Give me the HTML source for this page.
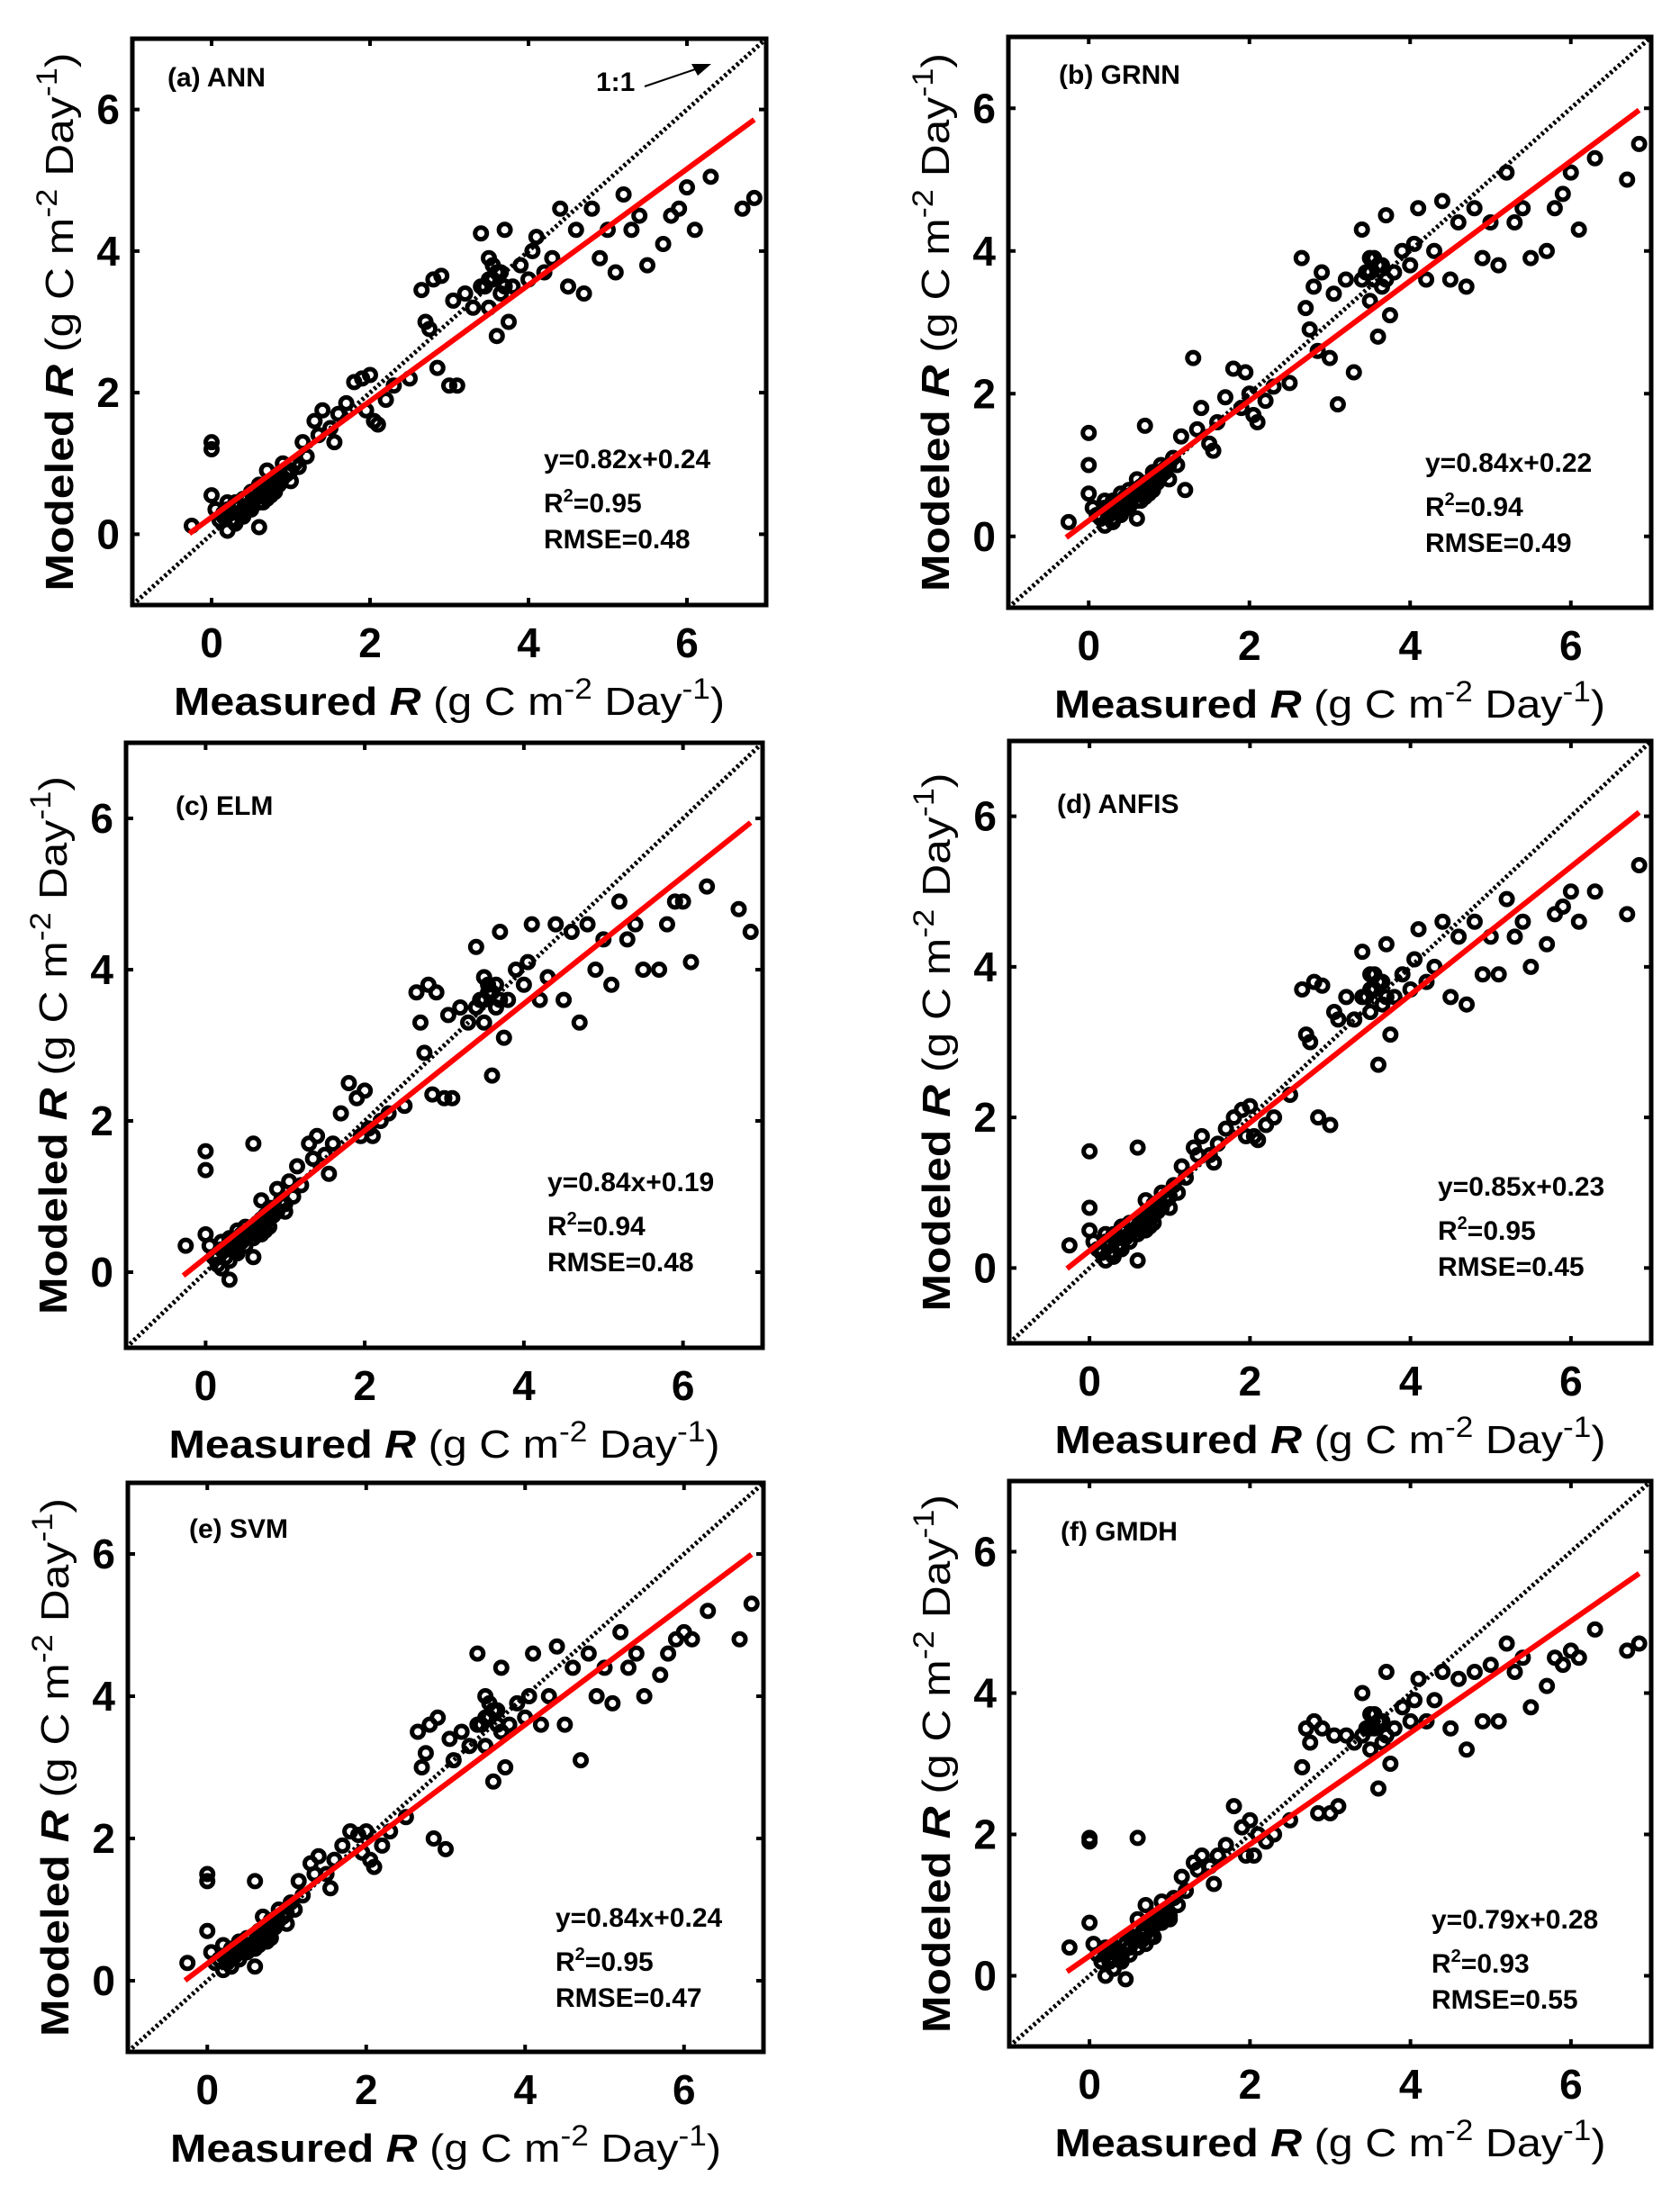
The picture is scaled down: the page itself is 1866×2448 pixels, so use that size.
<!DOCTYPE html>
<html><head><meta charset="utf-8"><style>
html,body{margin:0;padding:0;background:#fff;}
svg{display:block;font-family:"Liberation Sans",Arial,sans-serif;}
</style></head><body>
<svg id="fig" xmlns="http://www.w3.org/2000/svg" width="1866" height="2448" viewBox="0 0 1866 2448"></svg>
<script>
// ---------- data ----------
const measured = [-0.25,0,0,0,0.05,0.1,0.15,0.2,0.2,0.25,0.3,0.3,0.35,0.4,0.4,0.45,0.5,0.5,0.55,0.6,0.6,0.65,0.7,0.7,0.75,0.8,0.8,0.85,0.9,0.95,1.0,1.05,1.1,1.15,1.2,
1.3,1.35,1.4,1.5,1.55,1.6,1.7,1.8,1.9,1.95,2.0,2.05,2.1,2.2,2.3,
2.5,2.65,2.7,2.75,2.8,2.85,2.9,3.0,3.05,3.1,3.2,3.3,
3.4,3.45,3.5,3.5,3.55,3.6,3.65,3.7,3.75,3.8,3.9,4.0,4.05,4.1,4.2,4.3,
4.4,4.5,4.6,4.7,4.8,4.9,5.0,5.1,5.2,5.3,5.4,5.5,
5.7,5.8,5.9,6.0,6.1,6.3,6.7,6.85,
0.15,0.2,0.25,0.3,0.35,0.4,0.45,0.5,0.55,0.6,0.65,0.7,0.75,0.8,0.85,0.9,0.95,1.0,0.3,0.4,0.5,0.6,0.7,0.8,3.4,3.5,3.6,3.7,3.55,3.65];
const modeledA = [0.12,1.3,1.2,0.55,0.35,0.2,0.3,0.05,0.45,0.2,0.4,0.15,0.3,0.5,0.25,0.35,0.6,0.4,0.5,0.1,0.7,0.45,0.9,0.6,0.55,0.8,0.65,0.7,1.0,0.85,0.75,1.0,0.95,1.3,1.1,
1.6,1.4,1.75,1.5,1.3,1.7,1.85,2.15,2.2,1.75,2.25,1.6,1.55,1.9,2.1,
2.2,3.45,3.0,2.9,3.6,2.35,3.65,2.1,3.3,2.1,3.4,3.2,
4.25,3.5,3.9,3.2,3.6,2.8,3.7,4.3,3.0,3.5,3.8,3.6,4.0,4.2,3.7,3.9,
4.6,3.5,4.3,3.4,4.6,3.9,4.3,3.7,4.8,4.3,4.5,3.8,
4.1,4.5,4.6,4.9,4.3,5.05,4.6,4.75,
0.25,0.35,0.3,0.45,0.4,0.35,0.5,0.45,0.6,0.55,0.65,0.7,0.7,0.75,0.85,0.8,0.9,0.9,0.2,0.3,0.35,0.45,0.5,0.6,3.5,3.6,3.7,3.5,3.8,3.4];
const modeledB = [0.2,1.45,1.0,0.6,0.4,0.3,0.25,0.15,0.5,0.3,0.45,0.2,0.35,0.6,0.3,0.4,0.65,0.45,0.55,0.25,0.8,0.5,1.55,0.65,0.6,0.9,0.7,0.75,1.0,0.9,0.8,1.1,1.0,1.4,0.65,
2.5,1.5,1.8,1.3,1.2,1.6,1.95,2.35,1.8,2.3,2.0,1.7,1.6,1.9,2.1,
2.15,3.9,3.2,2.9,3.5,2.6,3.7,2.5,3.4,1.85,3.6,2.3,
4.3,3.7,3.9,3.3,3.6,2.8,3.8,4.5,3.1,3.7,4.0,3.8,4.1,4.6,3.6,4.0,
4.7,3.6,4.4,3.5,4.6,3.9,4.4,3.8,5.1,4.4,4.6,3.9,
4.0,4.6,4.8,5.1,4.3,5.3,5.0,5.5,
0.3,0.4,0.35,0.5,0.45,0.4,0.55,0.5,0.6,0.6,0.7,0.75,0.7,0.8,0.9,0.85,0.95,1.0,0.25,0.35,0.4,0.5,0.55,0.65,3.6,3.7,3.8,3.6,3.9,3.5];
const modeledC = [0.35,1.6,1.35,0.5,0.35,0.2,0.1,0.05,0.4,0.2,0.45,-0.1,0.3,0.55,0.25,0.4,0.6,0.45,0.5,0.2,1.7,0.5,0.95,0.6,0.55,0.85,0.7,0.75,1.1,0.9,0.8,1.2,1.0,1.4,1.15,
1.7,1.5,1.8,1.55,1.3,1.7,2.1,2.5,2.3,1.8,2.4,1.9,1.8,2.0,2.1,
2.2,3.7,3.3,2.9,3.8,2.35,3.7,2.3,3.4,2.3,3.5,3.3,
4.3,3.6,3.9,3.3,3.7,2.6,3.8,4.5,3.1,3.6,4.0,3.8,4.1,4.6,3.6,3.9,
4.6,3.6,4.5,3.3,4.6,4.0,4.4,3.8,4.9,4.4,4.6,4.0,
4.0,4.6,4.9,4.9,4.1,5.1,4.8,4.5,
0.2,0.3,0.3,0.4,0.4,0.35,0.5,0.45,0.55,0.6,0.65,0.7,0.75,0.75,0.85,0.8,0.95,0.9,0.15,0.3,0.35,0.45,0.5,0.6,3.5,3.6,3.7,3.6,3.8,3.5];
const modeledD = [0.3,1.55,0.8,0.5,0.35,0.25,0.2,0.1,0.45,0.2,0.4,0.15,0.3,0.55,0.25,0.4,0.6,0.45,0.5,0.1,1.6,0.5,0.9,0.6,0.55,0.85,0.7,0.75,1.0,0.9,0.8,1.1,1.0,1.35,1.2,
1.6,1.5,1.75,1.5,1.4,1.65,1.85,2.0,2.1,1.75,2.15,1.75,1.7,1.9,2.0,
2.3,3.7,3.1,3.0,3.8,2.0,3.75,1.9,3.4,3.3,3.6,3.3,
4.2,3.6,3.9,3.4,3.7,2.7,3.8,4.3,3.1,3.6,3.9,3.7,4.1,4.5,3.8,4.0,
4.6,3.6,4.4,3.5,4.6,3.9,4.4,3.9,4.9,4.4,4.6,4.0,
4.3,4.7,4.8,5.0,4.6,5.0,4.7,5.35,
0.25,0.35,0.3,0.45,0.4,0.4,0.5,0.45,0.6,0.55,0.65,0.7,0.75,0.8,0.85,0.8,0.95,0.95,0.2,0.3,0.35,0.45,0.5,0.6,3.6,3.7,3.8,3.6,3.9,3.5];
const modeledE = [0.25,1.5,1.4,0.7,0.4,0.25,0.3,0.15,0.5,0.25,0.4,0.2,0.35,0.55,0.3,0.4,0.6,0.45,0.5,0.2,1.4,0.5,0.9,0.6,0.55,0.85,0.7,0.75,1.0,0.9,0.8,1.1,1.0,1.4,1.2,
1.65,1.5,1.75,1.5,1.3,1.7,1.9,2.1,2.05,1.8,2.1,1.7,1.6,1.9,2.1,
2.3,3.5,3.0,3.2,3.6,2.0,3.7,1.85,3.4,3.1,3.5,3.3,
4.6,3.6,4.0,3.3,3.7,2.8,3.8,4.4,3.0,3.6,3.9,3.7,4.0,4.6,3.6,4.0,
4.7,3.6,4.4,3.1,4.6,4.0,4.4,3.9,4.9,4.4,4.6,4.0,
4.3,4.6,4.8,4.9,4.8,5.2,4.8,5.3,
0.3,0.35,0.3,0.45,0.4,0.4,0.5,0.5,0.6,0.55,0.7,0.7,0.75,0.8,0.85,0.85,0.9,0.95,0.2,0.3,0.4,0.45,0.55,0.6,3.6,3.7,3.8,3.5,3.9,3.6];
const modeledF = [0.4,1.95,1.9,0.75,0.45,0.3,0.2,0.0,0.4,0.2,0.35,0.1,0.3,0.5,0.2,-0.05,0.55,0.4,0.5,1.95,0.8,0.5,1.0,0.6,0.55,0.85,0.7,0.75,1.05,0.9,0.8,1.1,1.0,1.4,1.2,
1.6,1.5,1.7,1.55,1.3,1.7,1.85,2.4,2.1,1.7,2.2,1.7,2.0,1.9,2.0,
2.2,2.95,3.5,3.3,3.6,2.3,3.5,2.3,3.4,2.4,3.4,3.3,
4.0,3.5,3.7,3.2,3.5,2.65,3.6,4.3,3.0,3.5,3.8,3.6,3.9,4.2,3.6,3.9,
4.3,3.5,4.2,3.2,4.3,3.6,4.4,3.6,4.7,4.3,4.5,3.8,
4.1,4.5,4.4,4.6,4.5,4.9,4.6,4.7,
0.2,0.3,0.25,0.4,0.35,0.3,0.45,0.4,0.55,0.5,0.6,0.65,0.7,0.7,0.8,0.75,0.85,0.85,0.1,0.25,0.3,0.4,0.45,0.55,3.4,3.5,3.6,3.4,3.7,3.3];
const slopes = [0.82,0.84,0.84,0.85,0.84,0.79];
const intercepts = [0.24,0.22,0.19,0.23,0.24,0.28];
const r2Labels = ["0.95","0.94","0.94","0.95","0.95","0.93"];
const rmseLabels = ["0.48","0.49","0.48","0.45","0.47","0.55"];
const panelTitles = ["(a) ANN","(b) GRNN","(c) ELM","(d) ANFIS","(e) SVM","(f) GMDH"];
const tickValues = [0,2,4,6];
const modeledAll = [modeledA,modeledB,modeledC,modeledD,modeledE,modeledF];

// ---------- layout ----------
const layout = [
 {L:147,T:43,R:851,B:672, lab:[186,96], eq:[604,520]},
 {L:1120,T:41,R:1834,B:675, lab:[1176,93], eq:[1583,524]},
 {L:140,T:825,R:847,B:1497, lab:[195,905], eq:[608,1323]},
 {L:1121,T:823,R:1834,B:1492, lab:[1174,903], eq:[1597,1328]},
 {L:142,T:1647,R:848,B:2279, lab:[210,1708], eq:[617,2140]},
 {L:1121,T:1645,R:1834,B:2273, lab:[1178,1711], eq:[1590,2142]}
];
const NS="http://www.w3.org/2000/svg";
const svg=document.getElementById('fig');
function mk(tag,attrs,parent){const e=document.createElementNS(NS,tag);for(const k in attrs)e.setAttribute(k,attrs[k]);(parent||svg).appendChild(e);return e;}

layout.forEach((p,i)=>{
  const g=mk('g',{});
  
  
  const ux=(p.R-p.L)/8, uy=(p.B-p.T)/8;
  const sx=v=>p.L+(v+1)*ux, sy=v=>p.B-(v+1)*uy;
  const cp=mk('clipPath',{id:'clip'+i},g);
  mk('rect',{x:p.L,y:p.T,width:p.R-p.L,height:p.B-p.T},cp);
  const plot=mk('g',{'clip-path':'url(#clip'+i+')'},g);
  const xs=measured, ys=modeledAll[i];
  for(let k=0;k<xs.length;k++){
    const c=mk('circle',{cx:sx(xs[k]),cy:sy(ys[k]),r:6.5,fill:'none',stroke:'#000','stroke-width':5},plot);
    
    
  }
  const one=mk('line',{x1:sx(-1),y1:sy(-1),x2:sx(7),y2:sy(7),stroke:'#000','stroke-width':5,'stroke-dasharray':'3 3'},plot);
  
  
  const x1=-0.28,x2=6.85;
  const fit=mk('line',{x1:sx(x1),y1:sy(slopes[i]*x1+intercepts[i]),x2:sx(x2),y2:sy(slopes[i]*x2+intercepts[i]),stroke:'#ff0000','stroke-width':6},plot);
  
  
  const fr=mk('rect',{x:p.L,y:p.T,width:p.R-p.L,height:p.B-p.T,fill:'none',stroke:'#000','stroke-width':5},g);
  
  
  tickValues.forEach(t=>{
    mk('line',{x1:sx(t),y1:p.B,x2:sx(t),y2:p.B-8,stroke:'#000','stroke-width':4},g);
    mk('line',{x1:sx(t),y1:p.T,x2:sx(t),y2:p.T+8,stroke:'#000','stroke-width':4},g);
    mk('line',{x1:p.L,y1:sy(t),x2:p.L+8,y2:sy(t),stroke:'#000','stroke-width':4},g);
    mk('line',{x1:p.R,y1:sy(t),x2:p.R-8,y2:sy(t),stroke:'#000','stroke-width':4},g);
    const xt=mk('text',{x:sx(t),y:p.B+58,'text-anchor':'middle','font-size':46,'font-weight':'bold'},g);
    xt.textContent=t;
    
    
    const yt=mk('text',{x:p.L-14,y:sy(t)+16,'text-anchor':'end','font-size':46,'font-weight':'bold'},g);
    yt.textContent=t;
    
    
  });
  const cx=(p.L+p.R)/2;
  const xl=mk('text',{x:cx,y:p.B+122,'text-anchor':'middle','font-size':44,textLength:612,lengthAdjust:'spacingAndGlyphs'},g);
  xl.innerHTML='<tspan font-weight="bold">Measured </tspan><tspan font-weight="bold" font-style="italic">R</tspan><tspan> (g C m</tspan><tspan dy="-18" font-size="32">-2</tspan><tspan dy="18"> Day</tspan><tspan dy="-18" font-size="32">-1</tspan><tspan dy="18">)</tspan>';
  
  
  const cy=(p.T+p.B)/2, yx=p.L-66;
  const yl=mk('text',{x:yx,y:cy,'text-anchor':'middle','font-size':44,transform:`rotate(-90 ${yx} ${cy})`,textLength:598,lengthAdjust:'spacingAndGlyphs'},g);
  yl.innerHTML='<tspan font-weight="bold">Modeled </tspan><tspan font-weight="bold" font-style="italic">R</tspan><tspan> (g C m</tspan><tspan dy="-18" font-size="32">-2</tspan><tspan dy="18"> Day</tspan><tspan dy="-18" font-size="32">-1</tspan><tspan dy="18">)</tspan>';
  
  
  const pt=mk('text',{x:p.lab[0],y:p.lab[1],'font-size':30,'font-weight':'bold'},g);
  pt.textContent=panelTitles[i];
  
  
  const e1=mk('text',{x:p.eq[0],y:p.eq[1],'font-size':30,'font-weight':'bold'},g);
  e1.textContent='y='+slopes[i].toFixed(2)+'x+'+intercepts[i].toFixed(2);
  
  
  const e2=mk('text',{x:p.eq[0],y:p.eq[1]+49,'font-size':30,'font-weight':'bold'},g);
  e2.innerHTML='R<tspan dy="-12" font-size="20">2</tspan><tspan dy="12">='+r2Labels[i]+'</tspan>';
  
  
  const e3=mk('text',{x:p.eq[0],y:p.eq[1]+89,'font-size':30,'font-weight':'bold'},g);
  e3.textContent='RMSE='+rmseLabels[i];
  
  
  if(i===0){
    const a=mk('text',{x:662,y:101,'font-size':30,'font-weight':'bold'},g);
    a.textContent='1:1';
    
    
    const al=mk('line',{x1:716,y1:96,x2:775,y2:76,stroke:'#000','stroke-width':2},g);
    
    
    mk('polygon',{points:'790,71 768,71 775,84',fill:'#000'},g);
  }
});
</script>
</body></html>
